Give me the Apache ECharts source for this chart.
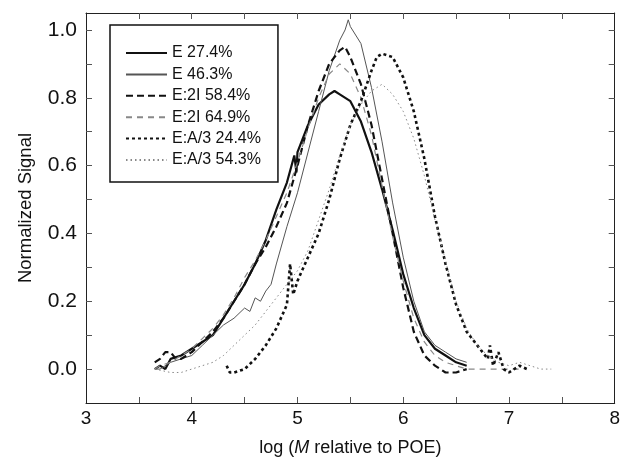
<!DOCTYPE html>
<html>
<head>
<meta charset="utf-8">
<script src="https://cdn.jsdelivr.net/npm/echarts@6/dist/echarts.min.js"></script>
<style>
html,body{margin:0;padding:0;background:#fff;}
#chart{width:623px;height:462px;}
</style>
</head>
<body>
<div id="chart"></div>
<script>
// ---- data ----
const seriesNames = ['E 27.4%', 'E 46.3%', 'E:2I 58.4%', 'E:2I 64.9%', 'E:A/3 24.4%', 'E:A/3 54.3%'];

const xE274 = [3.65,3.7,3.75,3.8,3.9,4.0,4.1,4.2,4.3,4.4,4.5,4.6,4.7,4.8,4.9,4.97,4.99,5.0,5.1,5.2,5.3,5.35,5.4,5.5,5.6,5.7,5.8,5.9,6.0,6.1,6.2,6.3,6.4,6.5,6.6];
const yE274 = [0.0,0.01,0.0,0.03,0.04,0.06,0.08,0.1,0.15,0.2,0.25,0.31,0.38,0.47,0.55,0.63,0.58,0.64,0.72,0.78,0.81,0.82,0.81,0.79,0.73,0.64,0.53,0.41,0.28,0.18,0.1,0.06,0.04,0.02,0.01];

const xE463 = [3.65,3.7,3.8,3.9,4.0,4.1,4.2,4.3,4.4,4.5,4.55,4.6,4.65,4.7,4.75,4.8,4.9,5.0,5.1,5.2,5.3,5.4,5.45,5.48,5.5,5.6,5.7,5.8,5.9,6.0,6.1,6.2,6.3,6.4,6.5,6.6];
const yE463 = [0.0,0.0,0.02,0.03,0.04,0.07,0.1,0.13,0.15,0.18,0.17,0.21,0.2,0.23,0.25,0.31,0.42,0.52,0.64,0.76,0.88,0.97,1.0,1.03,1.01,0.96,0.83,0.67,0.49,0.33,0.2,0.11,0.07,0.05,0.03,0.02];

const xE2I584 = [3.65,3.7,3.75,3.8,3.85,3.9,4.0,4.1,4.2,4.3,4.4,4.5,4.6,4.7,4.8,4.9,5.0,5.1,5.2,5.3,5.4,5.45,5.5,5.6,5.7,5.8,5.9,6.0,6.1,6.2,6.3,6.4,6.5,6.6];
const yE2I584 = [0.02,0.03,0.05,0.05,0.03,0.03,0.05,0.08,0.11,0.15,0.2,0.25,0.31,0.36,0.42,0.49,0.6,0.72,0.82,0.9,0.94,0.95,0.92,0.84,0.72,0.56,0.4,0.24,0.11,0.04,0.01,-0.01,-0.01,0.0];

const xE2I649 = [3.65,3.7,3.8,3.9,4.0,4.1,4.2,4.3,4.4,4.5,4.6,4.7,4.8,4.9,5.0,5.1,5.2,5.3,5.4,5.5,5.6,5.7,5.8,5.9,6.0,6.1,6.2,6.3,6.4,6.5,6.6,6.7,6.8,6.9,7.0,7.1];
const yE2I649 = [0.0,0.01,0.02,0.04,0.06,0.09,0.12,0.16,0.21,0.27,0.32,0.38,0.45,0.52,0.61,0.71,0.8,0.87,0.9,0.87,0.8,0.69,0.54,0.39,0.26,0.15,0.08,0.04,0.02,0.01,0.0,0.0,0.0,0.0,0.0,0.0];

const xEA3244 = [4.33,4.36,4.4,4.5,4.6,4.7,4.8,4.9,4.93,4.96,5.0,5.1,5.2,5.3,5.4,5.5,5.6,5.7,5.75,5.8,5.9,6.0,6.1,6.2,6.3,6.4,6.5,6.6,6.7,6.8,6.82,6.85,6.9,6.95,7.0,7.1,7.17];
const yEA3244 = [0.01,-0.01,-0.01,0.0,0.03,0.07,0.12,0.19,0.31,0.22,0.26,0.33,0.4,0.5,0.62,0.72,0.79,0.88,0.92,0.93,0.92,0.86,0.76,0.62,0.45,0.31,0.19,0.11,0.07,0.03,0.07,0.01,0.05,0.0,-0.01,0.01,0.0];

const xEA3543 = [3.65,3.8,3.9,4.0,4.1,4.2,4.3,4.4,4.5,4.6,4.7,4.8,4.9,5.0,5.1,5.2,5.3,5.4,5.5,5.6,5.7,5.8,5.9,6.0,6.1,6.2,6.3,6.4,6.5,6.6,6.7,6.8,6.9,7.0,7.1,7.2,7.3,7.4];
const yEA3543 = [0.0,-0.01,-0.01,0.0,0.01,0.02,0.04,0.07,0.1,0.13,0.17,0.21,0.25,0.29,0.35,0.44,0.53,0.63,0.72,0.78,0.82,0.84,0.81,0.76,0.68,0.57,0.44,0.32,0.2,0.12,0.07,0.04,0.02,0.01,0.02,0.01,0.0,0.0];

const xTickLabels = [3,4,5,6,7,8];
const xTickMarks = [3.5,4,4.5,5,5.5,6,6.5,7,7.5];
const yTickLabels = [0,0.2,0.4,0.6,0.8,1.0];
const yTickMarks = [0,0.1,0.2,0.3,0.4,0.5,0.6,0.7,0.8,0.9,1.0];

// ---- chart ----
const zip = (xs, ys) => xs.map((x, i) => [x, ys[i]]);
const FONT = '"Liberation Sans", Arial, sans-serif';

const styles = [
  {color:'#111', width:2.2, type:'solid'},
  {color:'#555', width:1, type:'solid'},
  {color:'#111', width:2.2, type:[7,4]},
  {color:'#888', width:1.2, type:[6,5]},
  {color:'#111', width:2.6, type:[3,3]},
  {color:'#888', width:1, type:[1.5,3]}
];
const datasets = [zip(xE274,yE274), zip(xE463,yE463), zip(xE2I584,yE2I584), zip(xE2I649,yE2I649), zip(xEA3244,yEA3244), zip(xEA3543,yEA3543)];

const tickStyle = {show:true, inside:true, length:6, lineStyle:{color:'#555', width:1}};
const axisLine = {show:true, onZero:false, lineStyle:{color:'#222', width:1}};

const chart = echarts.init(document.getElementById('chart'), null, {renderer:'canvas'});
chart.setOption({
  animation:false,
  backgroundColor:'#fff',
  textStyle:{fontFamily:FONT},
  grid:{left:86, right:8, top:13, bottom:59, containLabel:false},
  legend:{
    orient:'vertical', left:110, top:25,
    data:seriesNames,
    itemWidth:41, itemHeight:16, itemGap:5.4,
    padding:[20,17,14,15],
    borderColor:'#111', borderWidth:1.5,
    itemStyle:{opacity:0},
    textStyle:{fontFamily:FONT, fontSize:16, color:'#111', lineHeight:16}
  },
  xAxis:[{
    type:'value', min:3, max:8, position:'bottom',
    axisLine:axisLine,
    axisTick:Object.assign({customValues:xTickMarks}, tickStyle),
    axisLabel:{customValues:xTickLabels, fontSize:19, color:'#111', margin:6, fontFamily:FONT},
    splitLine:{show:false},
    name:'log ({i|M} relative to POE)', nameLocation:'middle', nameGap:36,
    nameTextStyle:{fontSize:18, color:'#111', fontFamily:FONT, rich:{i:{fontStyle:'italic', fontSize:18, fontFamily:FONT, color:'#111'}}}
  },{
    type:'value', min:3, max:8, position:'top',
    axisLine:axisLine,
    axisTick:Object.assign({customValues:xTickMarks}, tickStyle),
    axisLabel:{show:false}, splitLine:{show:false}
  }],
  yAxis:[{
    type:'value', min:-0.1, max:1.05, position:'left',
    axisLine:axisLine,
    axisTick:Object.assign({customValues:yTickMarks}, tickStyle),
    axisLabel:{customValues:yTickLabels, fontSize:21, color:'#111', margin:9, fontFamily:FONT,
      formatter:v => v.toFixed(1)},
    splitLine:{show:false},
    name:'Normalized Signal', nameLocation:'middle', nameGap:51,
    nameTextStyle:{fontSize:18.5, color:'#111', fontFamily:FONT}
  },{
    type:'value', min:-0.1, max:1.05, position:'right',
    axisLine:axisLine,
    axisTick:Object.assign({customValues:yTickMarks}, tickStyle),
    axisLabel:{show:false}, splitLine:{show:false}
  }],
  series: seriesNames.map((n, i) => ({
    name:n, type:'line', data:datasets[i], symbol:'none', smooth:false,
    xAxisIndex:0, yAxisIndex:0,
    lineStyle:{color:styles[i].color, width:styles[i].width, type:styles[i].type},
    itemStyle:{color:styles[i].color},
    emphasis:{disabled:true}
  }))
});
</script>
</body>
</html>
